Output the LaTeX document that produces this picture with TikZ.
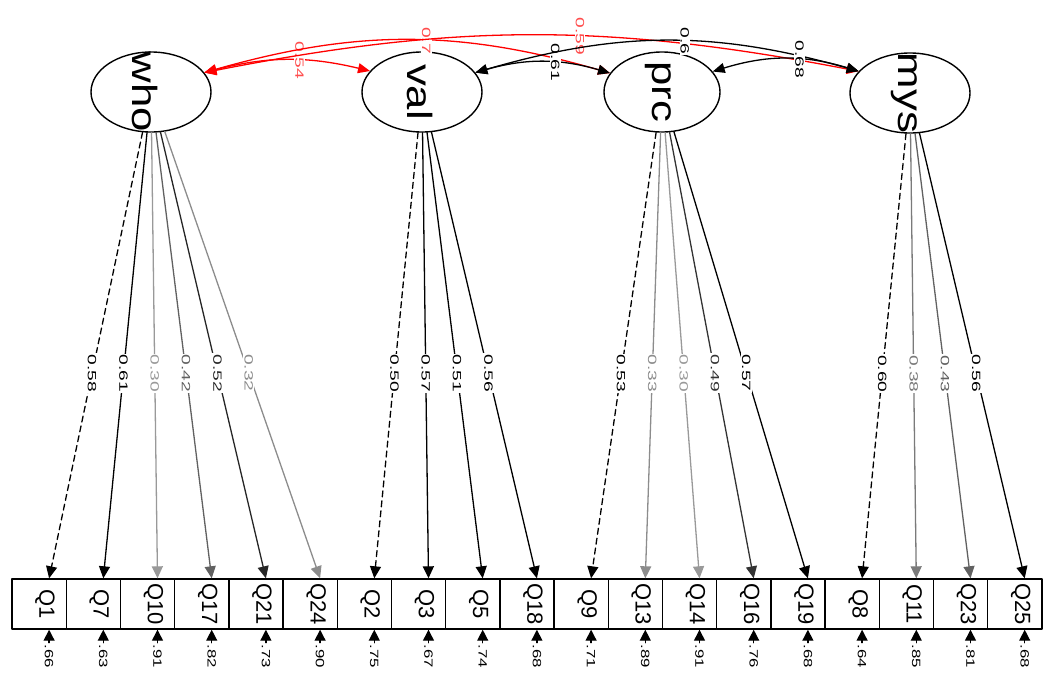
\documentclass[tikz,border=0pt]{standalone}
\usepackage{fontspec}
\setmainfont{Liberation Sans}
\usetikzlibrary{arrows.meta,shapes.geometric,positioning}

\newcommand{\wide}[2]{\scalebox{#1}[1]{#2}}

% one indicator: box, its name, residual arrow and value
\newcommand{\drawItem}[4]{
    \node[manifest] (#1) at (#2+27.1,-604) {};
    \node[manlab] (#1-t) at ([xshift=6pt]#1.center) {#3};
    \draw[resid] ([xshift=10pt]#1.south) -- ++(0,-13) node[reslab] (#1-r) {\wide{1.4}{#4}};
}

% one loading: latent -> indicator
\newcommand{\drawLoading}[5]{
    \draw[load,#4,#5] (#1) -- ([xshift=10pt]#2.north)
        node[wlab,pos=0.54,text=#4] {\wide{1.6}{#3}};
}

\tikzset{
    latent/.style={draw,ellipse,line width=1.4pt,minimum width=120pt,minimum height=80pt,inner sep=0pt},
    manifest/.style={draw,rectangle,line width=1.4pt,minimum width=54.2pt,minimum height=50pt,inner sep=0pt},
    latlab/.style={rotate=-90,inner sep=0pt,font=\fontsize{35}{35}\selectfont},
    manlab/.style={rotate=-90,inner sep=0pt,font=\fontsize{22}{22}\selectfont},
    wlab/.style={rotate=-90,fill=white,inner sep=1pt,font=\fontsize{12}{12}\selectfont},
    reslab/.style={rotate=-90,anchor=west,inner sep=1pt,font=\fontsize{12}{12}\selectfont},
    load/.style={line width=1.3pt,-{Triangle[length=12pt,width=11pt]}},
    fixed/.style={dash pattern=on 6pt off 4pt},
    cov/.style={line width=1.3pt,{Triangle[length=12pt,width=10pt]}-{Triangle[length=12pt,width=10pt]}},
    resid/.style={line width=1.3pt,{Triangle[length=11pt,width=11pt]}-},
}

\begin{document}
\begin{tikzpicture}[x=1pt,y=1pt,line cap=round,line join=round]

        \useasboundingbox (0,0) rectangle (1058,-675);

        % --- Latent factors ---
        \node[latent] (who) at (151,-92) {};
        \node[latent] (val) at (422,-92) {};
        \node[latent,minimum width=116pt] (prc) at (662,-92) {};
        \node[latent] (mys) at (910,-93) {};

        \node[latlab] (who-t) at ([xshift=-6pt]who.center) {\wide{1.25}{who}};
        \node[latlab] (val-t) at ([xshift=-2pt]val.center) {\wide{1.25}{val}};
        \node[latlab] (prc-t) at ([xshift=-4pt]prc.center) {\wide{1.25}{prc}};
        \node[latlab] (mys-t) at ([xshift=-6pt]mys.center) {\wide{1.25}{mys}};

        % --- Indicators ---
        \drawItem{q1}{12}{Q1}{.66}
        \drawItem{q7}{66.2}{Q7}{.63}
        \drawItem{q10}{120.4}{Q10}{.91}
        \drawItem{q17}{174.6}{Q17}{.82}
        \drawItem{q21}{228.8}{Q21}{.73}
        \drawItem{q24}{283}{Q24}{.90}
        \drawItem{q2}{337.2}{Q2}{.75}
        \drawItem{q3}{391.4}{Q3}{.67}
        \drawItem{q5}{445.6}{Q5}{.74}
        \drawItem{q18}{499.8}{Q18}{.68}
        \drawItem{q9}{554}{Q9}{.71}
        \drawItem{q13}{608.2}{Q13}{.89}
        \drawItem{q14}{662.4}{Q14}{.91}
        \drawItem{q16}{716.6}{Q16}{.76}
        \drawItem{q19}{770.8}{Q19}{.68}
        \drawItem{q8}{825}{Q8}{.64}
        \drawItem{q11}{879.2}{Q11}{.85}
        \drawItem{q23}{933.4}{Q23}{.81}
        \drawItem{q25}{987.6}{Q25}{.68}

        % --- Loadings ---
        \drawLoading{who}{q1}{0.58}{black}{fixed}
        \drawLoading{who}{q7}{0.61}{black}{}
        \drawLoading{who}{q10}{0.30}{black!40}{}
        \drawLoading{who}{q17}{0.42}{black!62}{}
        \drawLoading{who}{q21}{0.52}{black!85}{}
        \drawLoading{who}{q24}{0.32}{black!45}{}

        \drawLoading{val}{q2}{0.50}{black}{fixed}
        \drawLoading{val}{q3}{0.57}{black}{}
        \drawLoading{val}{q5}{0.51}{black}{}
        \drawLoading{val}{q18}{0.56}{black}{}

        \drawLoading{prc}{q9}{0.53}{black}{fixed}
        \drawLoading{prc}{q13}{0.33}{black!45}{}
        \drawLoading{prc}{q14}{0.30}{black!40}{}
        \drawLoading{prc}{q16}{0.49}{black!80}{}
        \drawLoading{prc}{q19}{0.57}{black}{}

        \drawLoading{mys}{q8}{0.60}{black}{fixed}
        \drawLoading{mys}{q11}{0.38}{black!52}{}
        \drawLoading{mys}{q23}{0.43}{black!62}{}
        \drawLoading{mys}{q25}{0.56}{black}{}

        % --- Factor covariances ---
        \draw[cov,red] (who.20) to[bend left=14]
            node[wlab,pos=0.58,text=red!70] {\wide{1.6}{0.54}} (val.158);
        \draw[cov,red] (who.20) to[bend left=16]
            node[wlab,pos=0.55,text=red!70] {\wide{1.6}{0.7}} (prc.160);
        \draw[cov,red] (who.20) to[bend left=11]
            node[wlab,pos=0.58,text=red!70] {\wide{1.6}{0.59}} (mys.157);
        \draw[cov] (val.20) to[bend left=16]
            node[wlab,pos=0.6] {\wide{1.6}{0.61}} (prc.160);
        \draw[cov] (val.20) to[bend left=16]
            node[wlab,pos=0.55] {\wide{1.6}{0.6}} (mys.157);
        \draw[cov] (prc.22) to[bend left=17]
            node[wlab,pos=0.6] {\wide{1.6}{0.68}} (mys.157);

    \end{tikzpicture}
\end{document}
